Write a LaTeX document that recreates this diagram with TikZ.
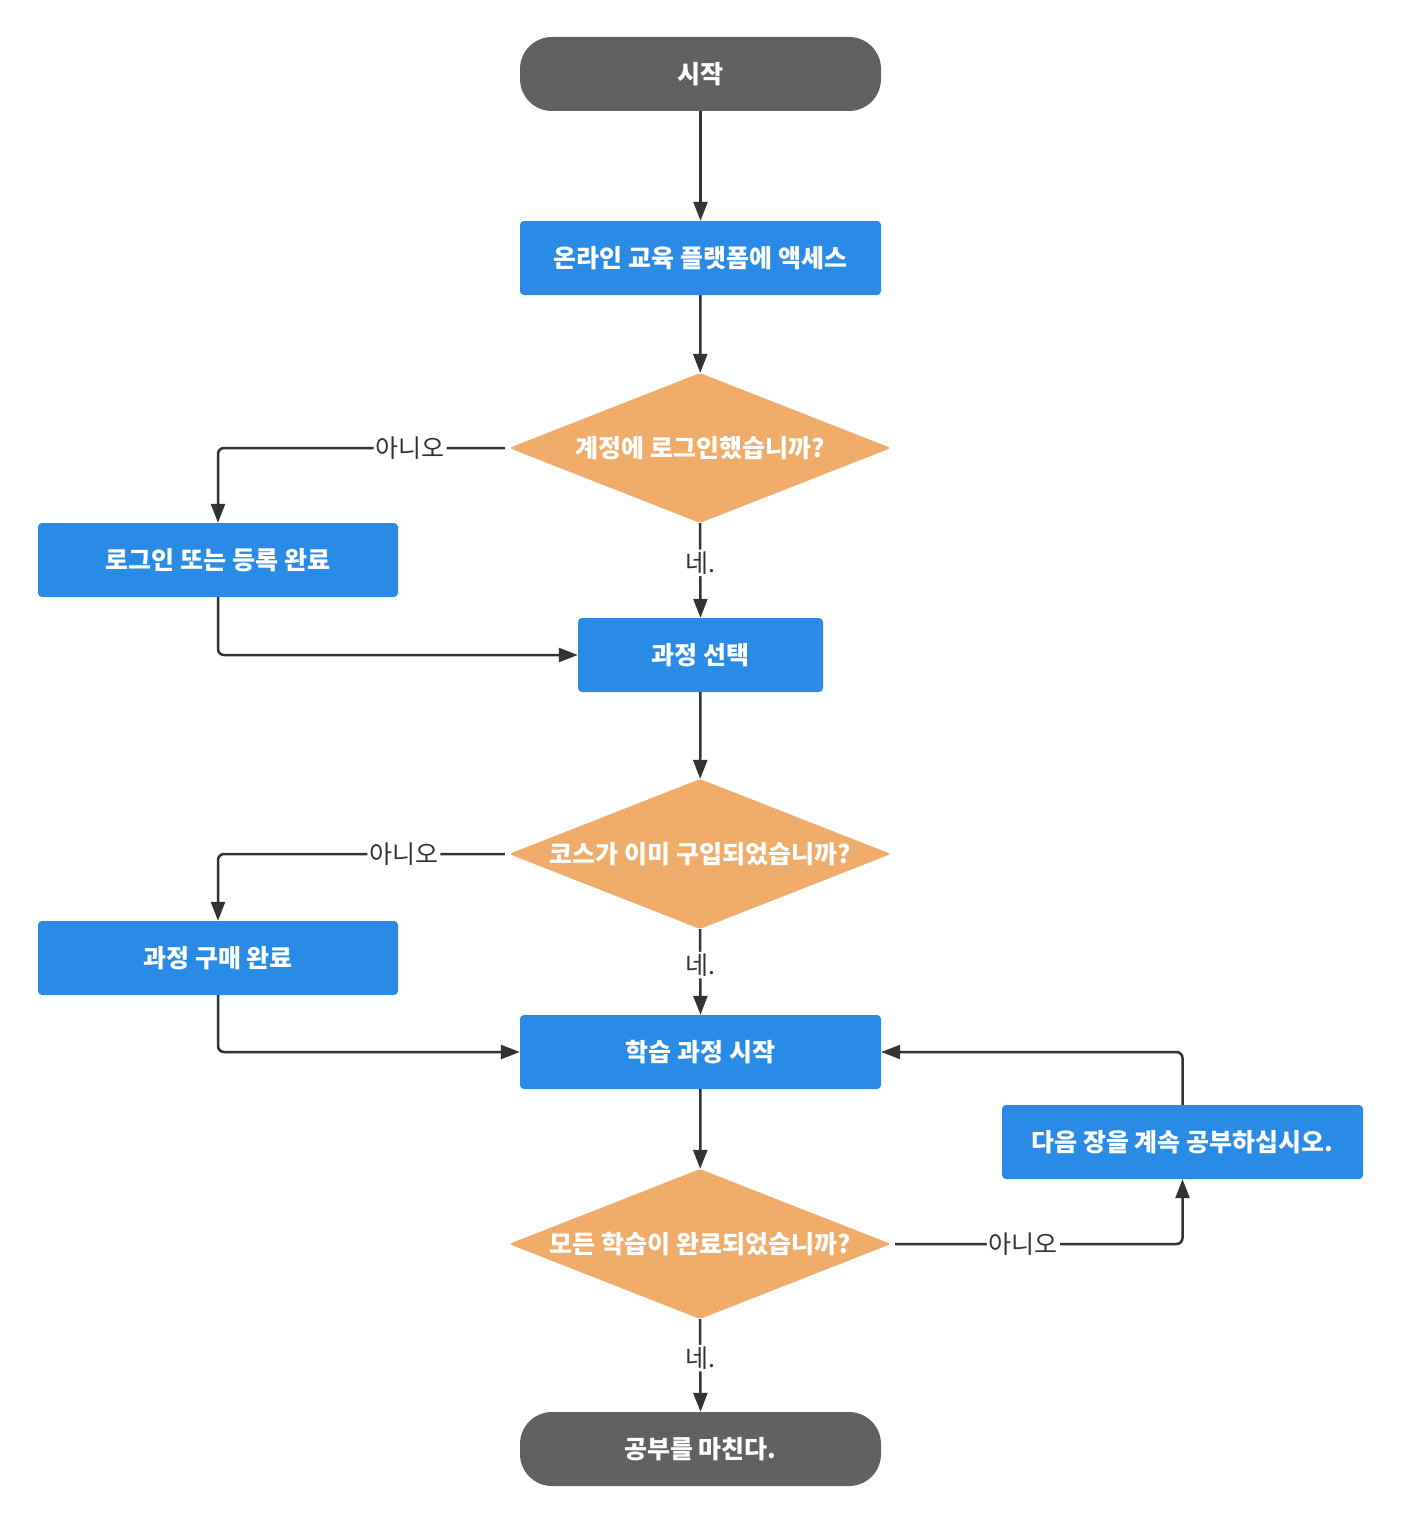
\documentclass[tikz,border=0pt]{standalone}
\usepackage{fontspec}
\setmainfont{Noto Sans CJK KR}
\usetikzlibrary{shapes.geometric, arrows.meta}
\definecolor{procblue}{HTML}{2A8BE6}
\definecolor{termgray}{HTML}{616161}
\definecolor{decorange}{HTML}{F0AC6A}
\definecolor{linegray}{HTML}{333333}
\definecolor{labeltext}{HTML}{333333}
\begin{document}
\begin{tikzpicture}[x=1pt,y=-1pt,
  box/.style={fill=procblue, rounded corners=4pt, minimum width=361pt, minimum height=74pt, text=white, font=\fontsize{25}{30}\selectfont\bfseries, inner sep=0pt},
  term/.style={box, fill=termgray, rounded corners=32pt},
  dec/.style={diamond, fill=decorange, aspect=2.55, minimum width=382pt, minimum height=150pt, inner sep=0pt, text=white, font=\fontsize{25}{30}\selectfont\bfseries, rounded corners=3pt},
  conn/.style={draw=linegray, line width=2.5pt, -{Triangle[length=19pt,width=14pt]}, rounded corners=6pt},
  lbl/.style={fill=white, inner sep=2pt, text=labeltext, font=\fontsize{25}{30}\selectfont}
]
\useasboundingbox[fill=white] (0,0) rectangle (1400,1525);

\node[term] (start) at (700.5,74) {시작};
\node[box] (access) at (700.5,258) {온라인 교육 플랫폼에 액세스};
\node[dec] (d1) at (700,448) {계정에 로그인했습니까?};
\node[box, minimum width=360pt] (login) at (218,560) {로그인 또는 등록 완료};
\node[box, minimum width=245pt] (select) at (700.5,655) {과정 선택};
\node[dec] (d2) at (700,854) {코스가 이미 구입되었습니까?};
\node[box, minimum width=360pt] (buy) at (218,958) {과정 구매 완료};
\node[box] (learn) at (700.5,1052) {학습 과정 시작};
\node[box] (next) at (1182.5,1142) {다음 장을 계속 공부하십시오.};
\node[dec] (d3) at (700,1244) {모든 학습이 완료되었습니까?};
\node[term] (end) at (700.5,1449) {공부를 마친다.};

\draw[conn] (start) -- (access);
\draw[conn] (access) -- (d1);
\draw[conn] ([xshift=-4pt]d1.west) -| node[lbl,pos=0.165]{아니오} (login.north);
\draw[conn] (d1.south) -- node[lbl,pos=0.42]{네.} (select.north);
\draw[conn] (login.south) |- (select.west);
\draw[conn] (select) -- (d2);
\draw[conn] ([xshift=-4pt]d2.west) -| node[lbl,pos=0.176]{아니오} (buy.north);
\draw[conn] (d2.south) -- node[lbl,pos=0.42]{네.} (learn.north);
\draw[conn] (buy.south) |- (learn.west);
\draw[conn] (learn) -- (d3);
\draw[conn] ([xshift=4pt]d3.east) -| node[lbl,pos=0.223]{아니오} (next.south);
\draw[conn] (next.north) |- (learn.east);
\draw[conn] (d3.south) -- node[lbl,pos=0.42]{네.} (end.north);
\end{tikzpicture}
\end{document}
